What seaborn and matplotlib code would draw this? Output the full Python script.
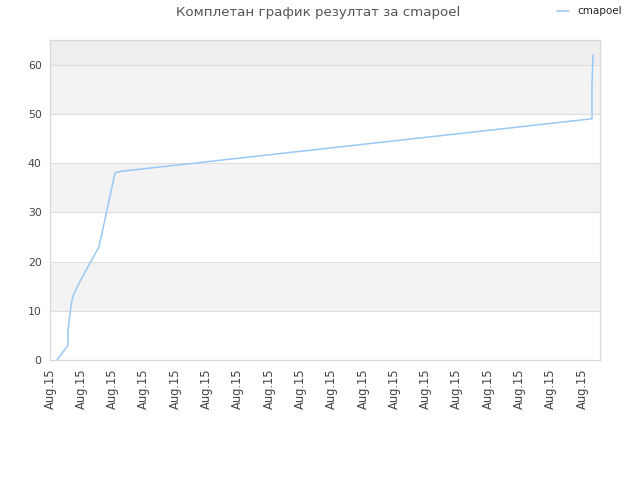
import seaborn as sns
import matplotlib.pyplot as plt
import pandas as pd

# progress over time (x in arbitrary time units)
x_vals = [7, 18, 18, 21, 23, 30, 49, 65, 70, 542, 542, 543]
y_vals = [0, 3, 6, 11, 13, 16, 23, 38, 38.3, 49, 56, 62]
tick_pos = [i * 31.3 for i in range(18)]
tick_labels = ['Aug.15'] * 18
player = 'cmapoel'

df = pd.DataFrame({'t': x_vals, 'score': y_vals, 'who': player})

sns.set_style('white')
plt.rcParams['font.family'] = ['DejaVu Sans']

fig = plt.figure(figsize=(6.4, 4.8), dpi=100)
ax = fig.add_axes([50 / 640, 120 / 480, 550 / 640, 320 / 480])

# alternating background bands
for lo in (10, 30, 50):
    ax.axhspan(lo, lo + 10, color='#f3f3f3', zorder=0, lw=0)
ax.axhspan(60, 65, color='#eeeeee', zorder=0, lw=0)
for g in range(10, 70, 10):
    ax.axhline(g, color='#dedede', lw=0.8, zorder=1)

sns.lineplot(data=df, x='t', y='score', hue='who', palette=['#99c9f5'],
             linewidth=1.1, ax=ax, sort=False, estimator=None, zorder=3)

ax.set_xlim(0, 550)
ax.set_ylim(0, 65)
ax.set_yticks(range(0, 70, 10))
ax.set_xticks(tick_pos)
ax.set_xticklabels(tick_labels, rotation=90)
ax.tick_params(axis='both', length=0, labelsize=8.3, colors='#444444', pad=6)
ax.tick_params(axis='y', labelsize=7.8)
ax.set_xlabel('')
ax.set_ylabel('')
for s in ax.spines.values():
    s.set_color('#d8d8d8')
    s.set_linewidth(0.9)

fig.text(0.497, 0.988, 'Комплетан график резултат за cmapoel', ha='center', va='top',
         fontsize=9.6, color='#555555')
ax.legend(loc='upper right', bbox_to_anchor=(1.057, 1.135), frameon=False,
          fontsize=7.5, handlelength=1.2, handletextpad=0.8, labelcolor='#222222')

fig.savefig('out.png', dpi=100)
